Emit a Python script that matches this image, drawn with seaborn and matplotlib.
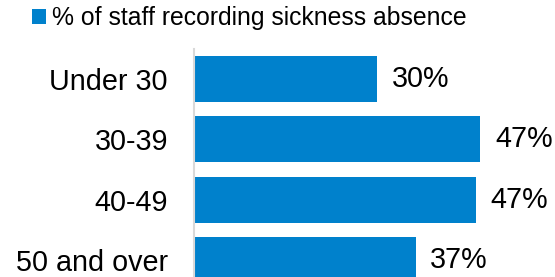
import matplotlib
matplotlib.use("Agg")
import matplotlib.pyplot as plt
import seaborn as sns
import pandas as pd

categories = ["Under 30", "30-39", "40-49", "50 and over"]
values = [30.3, 47.3, 46.6, 36.6]
series_name = "% of staff recording sickness absence"

sns.set_theme(style="white")
plt.rcParams["font.family"] = ["Liberation Sans", "DejaVu Sans"]
plt.rcParams["text.color"] = "black"

df = pd.DataFrame({"group": categories, "pct": values})

W, H = 555, 277
fig = plt.figure(figsize=(W / 100, H / 100), dpi=100)
ax = fig.add_axes([194 / W, 0, 333 / W, (H - 49) / H])

sns.barplot(data=df, x="pct", y="group", color="#0081CC", saturation=1,
            width=0.76, ax=ax, label=series_name, edgecolor="none")

ax.set_xlim(0, 55)
ax.set_ylim(3.28, -0.49)
ax.set_xlabel("")
ax.set_ylabel("")
ax.set_xticks([])
for s in ["top", "right", "bottom"]:
    ax.spines[s].set_visible(False)
ax.spines["left"].set_color("#d9d9d9")
ax.spines["left"].set_linewidth(1.5)
ax.tick_params(axis="y", length=0, pad=18.8, labelsize=20.7, labelcolor="black")

ax.bar_label(ax.containers[0], labels=[f"{round(v)}%" for v in values],
             padding=10.5, fontsize=20.7, color="black")

leg = ax.legend(loc="upper left", bbox_to_anchor=(26 / W, 1.0),
                bbox_transform=fig.transFigure, frameon=False,
                fontsize=17.8, handlelength=0.55, handleheight=0.6,
                handletextpad=0.25, borderaxespad=0.0, borderpad=0.25,
                labelcolor="black")

fig.savefig("out.png", dpi=100)
